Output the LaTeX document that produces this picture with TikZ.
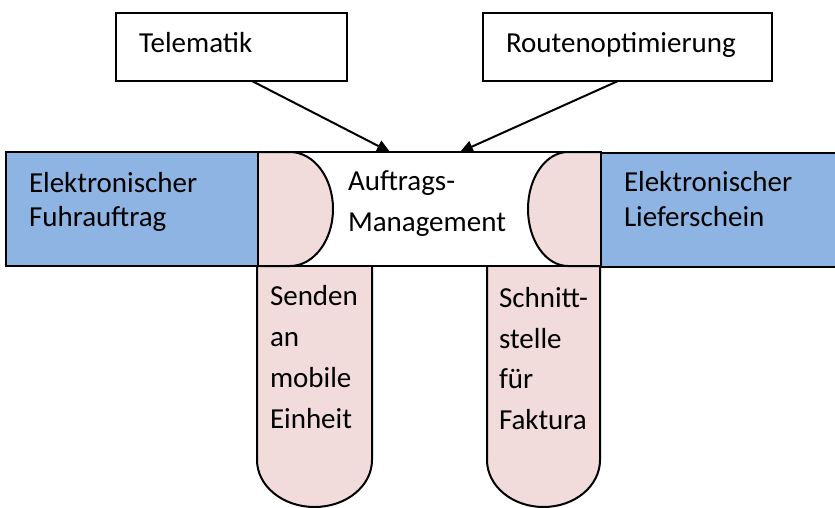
\documentclass[tikz,border=0pt]{standalone}
\usepackage{fontspec}
\setmainfont{Carlito}
\usetikzlibrary{arrows.meta}
\definecolor{bluefill}{RGB}{141,180,226}
\definecolor{pinkfill}{RGB}{242,220,219}
\begin{document}
\begin{tikzpicture}[x=1pt,y=-1pt,line width=2pt,
  box/.style={draw,outer sep=0pt,inner sep=0pt},
  txt/.style={inner sep=0pt,anchor=base west,align=left,font=\fontsize{29}{34.5}\selectfont},
  txtw/.style={inner sep=0pt,anchor=base west,align=left,font=\fontsize{29}{40.7}\selectfont},
  arr/.style={-{Triangle[length=13pt,width=12pt]},line width=2pt}]
\useasboundingbox (0,0) rectangle (835,507);
% pink columns
\filldraw[fill=pinkfill] (257,266) -- (257,460) arc[start angle=180,end angle=0,x radius=57.5,y radius=47] -- (372,266);
\filldraw[fill=pinkfill] (487,266) -- (487,460) arc[start angle=180,end angle=0,x radius=56.5,y radius=47] -- (600,266);
% central band
\node[box,fill=white,minimum width=343pt,minimum height=114pt] (am) at (429.5,209) {};
% pink tab ends in band
\filldraw[fill=pinkfill] (258,152) -- (290,152) arc[start angle=-90,end angle=90,x radius=43,y radius=57] -- (258,266);
\filldraw[fill=pinkfill] (601,152) -- (568,152) arc[start angle=-90,end angle=-270,x radius=40,y radius=57] -- (601,266);
% blue boxes
\node[box,fill=bluefill,minimum width=252pt,minimum height=114pt] (lb) at (132,209) {};
\node[box,fill=bluefill,minimum width=240pt,minimum height=114pt] (rb) at (721,209.5) {};
% top boxes
\node[box,minimum width=231pt,minimum height=68pt] (tel) at (231.5,47) {};
\node[box,minimum width=289pt,minimum height=68pt] (route) at (627.5,47) {};
% arrows
\draw[arr] ([xshift=20.5pt]tel.south) -- ([xshift=-39.5pt]am.north);
\draw[arr] ([xshift=-9.5pt]route.south) -- ([xshift=30.5pt]am.north);
% texts (anchor = baseline of the last line)
\node[txt] (teltxt) at (138,52) {Telematik};
\node[txt] (routetxt) at (505,52) {Routenoptimierung};
\node[txt] (lbtxt) at (28,226.5) {Elektronischer\\Fuhrauftrag};
\node[txt] (rbtxt) at (623,226) {Elektronischer\\Lieferschein};
\node[txtw] (amtxt) at (347,231) {Auftrags-\\Management};
\node[txtw] (c1txt) at (269,428) {Senden\\an\\mobile\\Einheit};
\node[txtw] (c2txt) at (498,429.5) {Schnitt-\\stelle\\für\\Faktura};
\end{tikzpicture}
\end{document}
